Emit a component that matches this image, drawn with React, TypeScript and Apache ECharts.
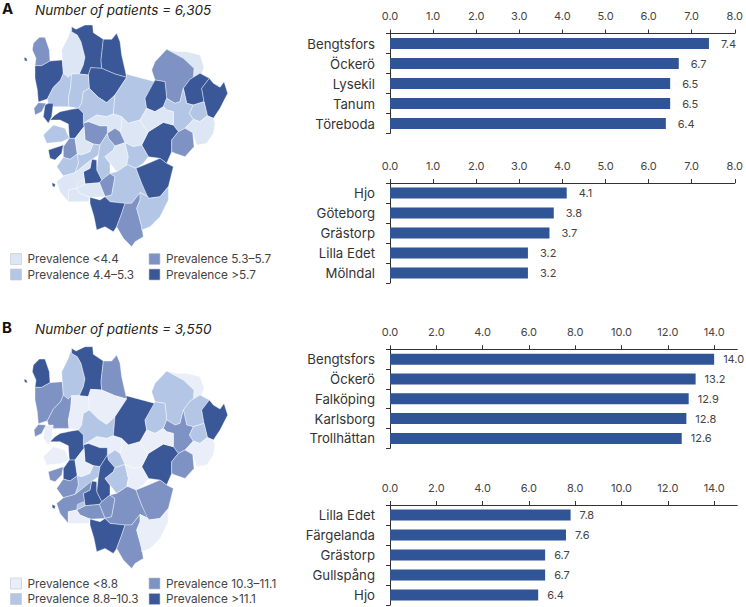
import React, { useEffect, useRef } from "react";
import * as echarts from "echarts";

const FONT = "Inter, 'Noto Sans', sans-serif";
const PALETTE_A = ["#dce6f5", "#b3c6e6", "#7e92c3", "#3a5798"];
const PALETTE_B = ["#e9eef8", "#b3c6e6", "#7e92c3", "#3a5798"];
const BAR_COLOR = "#2f5597";

const catA1 = ["Bengtsfors", "Öckerö", "Lysekil", "Tanum", "Töreboda"];
const valA1 = [7.4, 6.7, 6.5, 6.5, 6.4];
const catA2 = ["Hjo", "Göteborg", "Grästorp", "Lilla Edet", "Mölndal"];
const valA2 = [4.1, 3.8, 3.7, 3.2, 3.2];
const catB1 = ["Bengtsfors", "Öckerö", "Falköping", "Karlsborg", "Trollhättan"];
const valB1 = [14.0, 13.2, 12.9, 12.8, 12.6];
const catB2 = ["Lilla Edet", "Färgelanda", "Grästorp", "Gullspång", "Hjo"];
const valB2 = [7.8, 7.6, 6.7, 6.7, 6.4];
const ticksA = [0, 1, 2, 3, 4, 5, 6, 7, 8];
const ticksB = [0, 2, 4, 6, 8, 10, 12, 14];
const legendA = ["Prevalence <4.4", "Prevalence 4.4–5.3", "Prevalence 5.3–5.7", "Prevalence >5.7"];
const legendB = ["Prevalence <8.8", "Prevalence 8.8–10.3", "Prevalence 10.3–11.1", "Prevalence >11.1"];

// Outline of each municipality (x, y pairs, y downward).
const regions: number[][] = [
  [100,130,118,112,135,112,148,150,150,183,125,197,105,197,108,175,97,150],
  [105,197,125,197,150,183,187,180,190,220,182,240,160,262,142,297,115,306,112,270,105,235],
  [215,80,215,95,232,105,243,125,255,172,250,195,238,222,215,222,205,232,190,220,187,180,185,150,205,110],
  [215,80,228,88,255,75,278,75,280,98,310,118,303,180,305,205,272,203,265,225,238,222,250,195,255,172,243,125,232,105,215,95],
  [310,118,335,118,350,100,360,125,365,165,380,232,345,222,305,205,303,180],
  [272,203,305,205,345,222,380,232,345,285,320,308,295,292,268,265,265,225],
  [190,220,205,232,215,222,212,260,205,295,207,320,160,320,145,310,142,297,160,262,182,240],
  [215,222,238,222,265,225,268,265,250,275,245,310,235,325,207,320,205,295,212,260],
  [268,265,295,292,320,308,345,285,340,342,320,350,290,345,250,370,250,340,235,325,245,310,250,275],
  [380,232,378,222,465,245,435,295,440,325,420,360,385,370,365,350,340,342,345,285],
  [500,148,530,155,560,155,600,165,612,200,605,222,580,232,582,205,550,175],
  [465,185,500,148,550,175,582,205,580,232,570,238,550,265,540,305,525,310,500,295,495,245,465,240,455,210],
  [465,240,495,245,500,295,490,320,465,335,440,325,435,295],
  [570,238,580,232,600,220,628,235,605,265,612,305,580,315,560,310,550,265],
  [628,235,640,250,660,262,672,245,683,280,660,325,640,355,622,347,612,305,605,265],
  [500,295,525,310,540,305,550,265,560,310,580,315,568,340,580,358,555,385,535,395,520,375,520,335,500,330,490,320],
  [580,315,612,305,622,347,600,365,580,358,568,340],
  [622,347,640,355,645,370,640,400,620,430,590,435,578,398,555,385,580,358,600,365],
  [490,367,520,375,535,395,515,420,515,455,500,490,480,475,445,470,425,435,445,395],
  [535,395,555,385,578,398,582,440,555,470,525,460,515,455,515,420],
  [420,360,440,325,465,335,490,320,500,330,520,335,520,375,490,367,445,395,430,378],
  [365,350,385,370,420,360,430,378,445,395,425,435,400,440,375,428,360,395,365,375],
  [290,345,320,350,340,342,365,350,365,375,360,395,345,385,322,400,322,378,300,378,265,365,250,370],
  [322,400,345,385,360,395,375,428,345,438,325,415],
  [250,370,265,365,300,378,322,378,322,400,300,435,280,432,255,420,252,380],
  [150,360,165,345,180,335,215,328,235,325,250,340,250,370,252,380,225,415,208,415,205,372,180,360],
  [135,315,145,310,160,310,155,350,145,370,130,350],
  [102,325,115,308,138,310,125,335,105,345],
  [130,405,160,375,195,385,208,415,185,425,140,430],
  [145,450,190,435,185,460,165,480,150,475],
  [190,440,208,415,225,415,232,462,210,478,190,472],
  [225,415,252,380,255,420,280,432,270,455,245,465,232,462],
  [232,462,245,465,270,455,280,432,300,435,295,465,260,490,225,518,235,490],
  [322,400,325,415,345,438,340,450,315,470,330,490,330,520,305,540,290,510,295,465,300,435],
  [345,438,375,428,385,470,380,495,350,515,330,490,315,470,340,450],
  [375,428,400,440,425,435,445,470,430,490,408,505,385,495,380,495,385,470],
  [275,478,290,480,290,510,305,540,298,548,255,552,250,515,270,505],
  [330,520,345,530,335,585,315,590,298,548,305,540],
  [380,495,385,495,408,505,425,550,445,590,420,578,395,610,375,610,330,605,315,590,335,585,345,530,330,520,350,515],
  [408,505,445,490,480,475,500,490,520,500,505,560,480,590,445,595,425,550],
  [170,500,190,472,210,478,232,462,235,490,225,518,190,528],
  [170,545,190,528,225,518,260,490,275,478,270,505,250,515,255,552,230,565,205,570,205,605,180,575],
  [230,565,255,552,298,548,315,590,275,592,265,590,240,580],
  [205,570,230,565,240,580,265,590,270,592,265,605,215,605,205,605],
  [270,592,300,600,315,590,330,605,375,610,365,640,350,680,340,695,315,680,290,690,282,650,270,610],
  [420,578,420,600,410,625,425,680,430,710,405,725,395,740,370,715,350,680,365,640,375,610,395,610],
  [445,595,480,590,505,560,505,600,480,650,450,680,425,690,425,680,410,625,420,600,420,578,445,590],
  [232,548,250,540,255,552,230,565],
  [72,172,80,175,82,184,74,182],
  [156,548,166,552,164,562,157,558],
];

// Prevalence class of each region, in the same order as the outlines.
const classA = [2,3,0,3,3,3,1,1,1,1,0,2,3,3,3,1,1,0,3,2,0,0,0,2,2,3,3,2,1,3,2,0,1,1,0,1,3,2,1,3,1,0,0,0,3,2,1,0,3,3];
const classB = [3,2,1,3,2,0,2,0,1,3,0,1,1,1,3,2,1,0,3,2,0,0,0,1,3,3,0,2,0,2,3,0,1,3,1,0,3,2,2,2,2,2,2,0,3,2,0,1,3,3];

const geoJson = {
  type: "FeatureCollection",
  features: regions.map((r, i) => {
    const ring: number[][] = [];
    for (let k = 0; k < r.length; k += 2) ring.push([r[k], -r[k + 1]]);
    ring.push(ring[0]);
    return {
      type: "Feature",
      properties: { name: "R" + i },
      geometry: { type: "Polygon", coordinates: [ring] },
    };
  }),
};

function barPanel(idx: number, top: number, height: number, max: number, ticks: number[], cats: string[], vals: number[], gap: number) {
  const axisLine = { lineStyle: { color: "#333", width: 1 } };
  return {
    grid: { left: 390, width: 347.3, top, height },
    xAxis: {
      gridIndex: idx, type: "value", position: "top", min: 0, max,
      axisLine: { show: true, ...axisLine },
      axisTick: { show: true, length: 4, customValues: ticks, ...axisLine },
      splitLine: { show: false },
      axisLabel: {
        customValues: ticks, margin: 12, fontFamily: FONT, fontSize: 11, color: "#444",
        formatter: (v: number) => v.toFixed(1),
      },
    },
    yAxis: {
      gridIndex: idx, type: "category", inverse: true, data: cats,
      axisLine: { show: true, ...axisLine },
      axisTick: { show: true, length: 4, ...axisLine },
      axisLabel: { margin: 15, fontFamily: FONT, fontSize: 13.2, color: "#333" },
    },
    series: {
      type: "bar", xAxisIndex: idx, yAxisIndex: idx, data: vals, barWidth: 11,
      itemStyle: { color: BAR_COLOR },
      label: {
        show: true, position: "right", distance: gap, fontFamily: FONT, fontSize: 11, color: "#444",
        formatter: (p: any) => Number(p.value).toFixed(1),
      },
    },
  };
}

function mapSeries(name: string, top: number, classes: number[], palette: string[]) {
  return {
    type: "map", map: name, left: 24, top, width: 203.7, height: 221.7, aspectScale: 1,
    roam: false, silent: true, label: { show: false },
    itemStyle: { borderColor: "#fff", borderWidth: 0.4 },
    data: classes.map((c, i) => ({ name: "R" + i, value: c, itemStyle: { areaColor: palette[c] } })),
  };
}

function legendGraphic(y0: number, labels: string[], palette: string[]) {
  const out: any[] = [];
  labels.forEach((t, i) => {
    const col = i < 2 ? 0 : 1;
    const row = i % 2;
    const x = col === 0 ? 10.5 : 149;
    const y = y0 + row * 15.5;
    out.push({ type: "rect", shape: { x, y, width: 11, height: 11 }, style: { fill: palette[i], stroke: "#bfc5cf", lineWidth: 0.6 } });
    out.push({ type: "text", x: x + 17, y: y + 5.5, style: { text: t, font: `11.8px ${FONT}`, fill: "#444", verticalAlign: "middle" } });
  });
  return out;
}

function headGraphic(letter: string, y: number, caption: string, x = 2) {
  return [
    { type: "text", x, y, style: { text: letter, font: `bold 15px ${FONT}`, fill: "#111", verticalAlign: "middle" } },
    { type: "text", x: 35, y: y + 2, style: { text: caption, font: `italic 13.5px ${FONT}`, fill: "#222", verticalAlign: "middle" } },
  ];
}

export default function App() {
  const ref = useRef<HTMLDivElement>(null);
  useEffect(() => {
    document.body.style.margin = "0";
    echarts.registerMap("vgrA", geoJson as any);
    echarts.registerMap("vgrB", geoJson as any);
    const chart = echarts.init(ref.current!, null, { renderer: "svg" });
    const p = [
      barPanel(0, 33.5, 100, 8, ticksA, catA1, valA1, 12),
      barPanel(1, 183, 100, 8, ticksA, catA2, valA2, 12),
      barPanel(2, 349.3, 99, 15, ticksB, catB1, valB1, 9),
      barPanel(3, 505, 100, 15, ticksB, catB2, valB2, 9),
    ];
    chart.setOption({
      animation: false,
      backgroundColor: "#fff",
      grid: p.map((x) => x.grid),
      xAxis: p.map((x) => x.xAxis),
      yAxis: p.map((x) => x.yAxis),
      series: [
        ...p.map((x) => x.series),
        mapSeries("vgrA", 25, classA, PALETTE_A),
        mapSeries("vgrB", 346.7, classB, PALETTE_B),
      ],
      graphic: [
        ...headGraphic("A", 8, "Number of patients = 6,305"),
        ...headGraphic("B", 327, "Number of patients = 3,550"),
        ...legendGraphic(253.5, legendA, PALETTE_A),
        ...legendGraphic(578, legendB, PALETTE_B),
      ],
    });
    return () => chart.dispose();
  }, []);
  return <div ref={ref} style={{ position: "absolute", left: 0, top: 0, width: 746, height: 607 }} />;
}
